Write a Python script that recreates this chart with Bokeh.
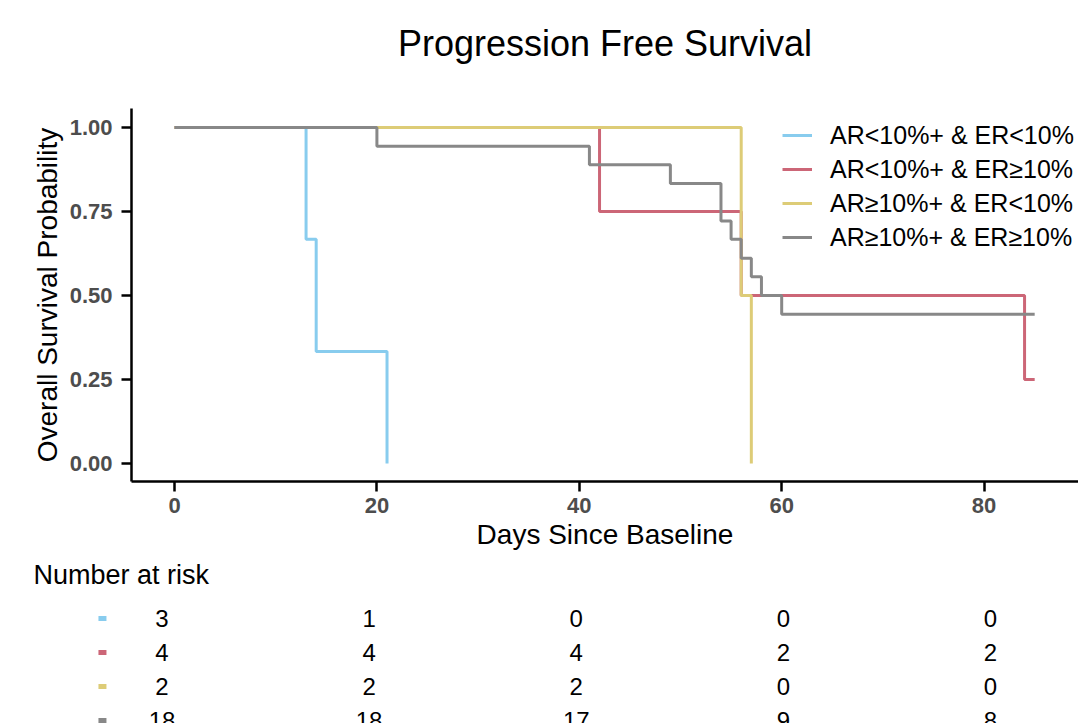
from bokeh.plotting import figure
from bokeh.models import (Range1d, FixedTicker, NumeralTickFormatter, Legend, LegendItem,
                          ColumnDataSource, Title)
from bokeh.layouts import column
from bokeh.embed import file_html
from bokeh.resources import INLINE
from bokeh.core.properties import value

# ---------------- data ----------------
groups = ["AR<10%+ & ER<10%", "AR<10%+ & ER\u226510%", "AR\u226510%+ & ER<10%", "AR\u226510%+ & ER\u226510%"]
colors = ["#88CCEE", "#CC6677", "#DDCC77", "#888888"]

blue_t = [0, 13, 14, 21]
blue_s = [1.0, 0.667, 0.333, 0.0]
red_t = [0, 42, 56, 84, 85]
red_s = [1.0, 0.75, 0.5, 0.25, 0.25]
yellow_t = [0, 56, 57]
yellow_s = [1.0, 0.5, 0.0]
gray_t = [0, 20, 41, 49, 54, 55, 56, 57, 58, 60, 85]
gray_s = [1.0, 0.944, 0.889, 0.833, 0.722, 0.667, 0.611, 0.556, 0.5, 0.444, 0.444]

risk_times = [0, 20, 40, 60, 80]
risk_blue = [3, 1, 0, 0, 0]
risk_red = [4, 4, 4, 2, 2]
risk_yellow = [2, 2, 2, 0, 0]
risk_gray = [18, 18, 17, 9, 8]

x_ticks = [0, 20, 40, 60, 80]
y_ticks = [0, 0.25, 0.5, 0.75, 1.0]

FONT = "Liberation Sans"


def no_align(fig):
    if "frame_align" in fig.properties():
        fig.frame_align = False


# ---------------- main KM plot ----------------
p = figure(width=1078, height=560, output_backend="svg", toolbar_location=None,
           x_range=Range1d(-4.25, 89.33), y_range=Range1d(-0.0536, 1.0565),
           min_border_left=131, min_border_right=0, min_border_top=108, min_border_bottom=79)
no_align(p)
p.outline_line_color = None
p.xgrid.visible = False
p.ygrid.visible = False
p.background_fill_color = "white"
p.border_fill_color = "white"

# empty spacer between the title and the plot area
p.add_layout(Title(text=" ", text_font_size="10px", standoff=32), "above")

p.title.text = "Progression Free Survival"
p.title.align = "center"
p.title.text_font = FONT
p.title.text_font_style = "normal"
p.title.text_font_size = "36px"
p.title.text_color = "black"
p.title.standoff = 0

series = [(blue_t, blue_s), (red_t, red_s), (yellow_t, yellow_s), (gray_t, gray_s)]
renderers = []
for (t_, s_), c in zip(series, colors):
    r = p.step(t_, s_, mode="after", line_color=c, line_width=3)
    renderers.append(r)

legend = Legend(items=[LegendItem(label=g, renderers=[r]) for g, r in zip(groups, renderers)],
                location=(651, 227), orientation="vertical",
                glyph_width=30, glyph_height=34, label_height=34, spacing=0,
                padding=0, margin=0, label_standoff=18,
                label_text_font=FONT, label_text_font_size="25px", label_text_color="black",
                border_line_color=None, background_fill_alpha=0)
p.add_layout(legend)

for ax in (p.xaxis[0], p.yaxis[0]):
    ax.axis_line_color = "black"
    ax.axis_line_width = 2.5
    ax.major_tick_line_color = "black"
    ax.major_tick_line_width = 2.5
    ax.major_tick_out = 10
    ax.major_tick_in = 0
    ax.minor_tick_line_color = None
    ax.major_label_text_font = FONT
    ax.major_label_text_font_style = "bold"
    ax.major_label_text_font_size = "22px"
    ax.major_label_text_color = "#4D4D4D"
    ax.axis_label_text_font = FONT
    ax.axis_label_text_font_style = "normal"
    ax.axis_label_text_font_size = "28px"
    ax.axis_label_text_color = "black"

p.xaxis.ticker = FixedTicker(ticks=x_ticks)
p.yaxis.ticker = FixedTicker(ticks=y_ticks)
p.yaxis.formatter = NumeralTickFormatter(format="0.00")
p.xaxis.axis_label = "Days Since Baseline"
p.yaxis.axis_label = "Overall Survival Probability"
p.xaxis.major_label_standoff = 6
p.yaxis.major_label_standoff = 9
p.xaxis.axis_label_standoff = 3
p.yaxis.axis_label_standoff = 4

# ---------------- number at risk table ----------------
t = figure(width=1078, height=163, output_backend="svg", toolbar_location=None,
           x_range=Range1d(-15.595, 88.50), y_range=Range1d(3.088, -1.706),
           x_axis_type=None, y_axis_type=None,
           min_border_left=0, min_border_right=0, min_border_top=0, min_border_bottom=0)
no_align(t)
t.outline_line_color = None
t.xgrid.visible = False
t.ygrid.visible = False
t.background_fill_color = "white"
t.border_fill_color = "white"

t.text(x=[-12.41], y=[-1.294], text=["Number at risk"], text_font=value(FONT),
       text_font_size="27px", text_align="left", text_baseline="middle", text_color="black")

risk_rows = [risk_blue, risk_red, risk_yellow, risk_gray]
for i, (vals, c) in enumerate(zip(risk_rows, colors)):
    src = ColumnDataSource(dict(x=risk_times, y=[i] * len(risk_times), txt=[str(v) for v in vals]))
    t.text(x="x", y="y", text="txt", source=src, text_font=value(FONT), text_font_size="24px",
           text_align="center", text_baseline="middle", text_color="black")
    t.rect(x=[-5.75], y=[i], width=8, height=5, width_units="screen", height_units="screen",
           fill_color=c, line_color=None)

layout = column(p, t, spacing=0)
open("out.html", "w").write(file_html(layout, INLINE))
